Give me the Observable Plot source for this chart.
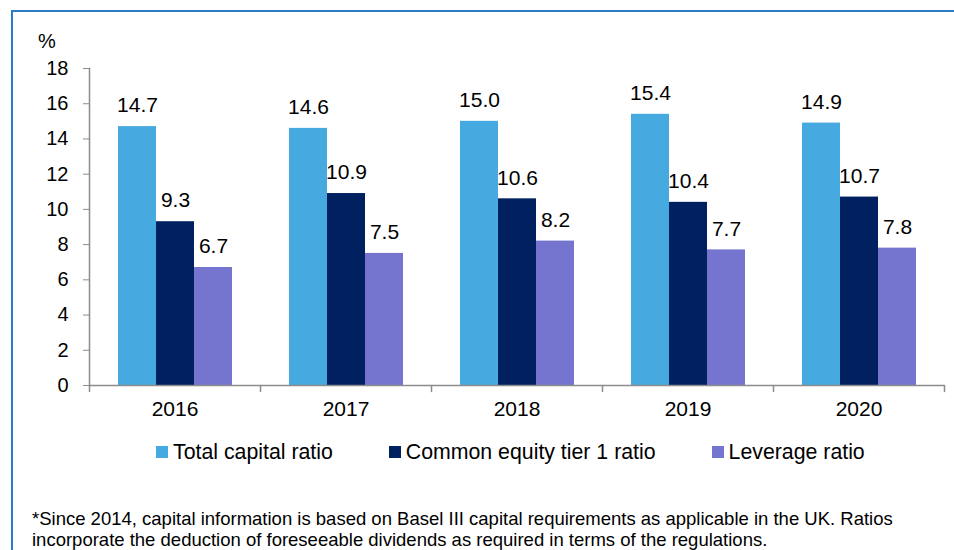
<!DOCTYPE html>
<html>
<head>
<meta charset="utf-8">
<script src="https://cdn.jsdelivr.net/npm/d3@7"></script>
<script src="https://cdn.jsdelivr.net/npm/@observablehq/plot@0.6"></script>
<style>
  body { margin: 0; background: #fff; font-family: "Liberation Sans", Arial, sans-serif; color: #000; }
  #wrap { position: relative; width: 954px; height: 550px; overflow: hidden; }
  #border { position: absolute; left: 11px; top: 10px; width: 960px; height: 560px;
            border-top: 2px solid #2a7cc8; border-left: 2px solid #2a7cc8; }
  #unit { position: absolute; left: 38px; top: 30px; font-size: 20px; line-height: 22px; }
  #chart { position: absolute; left: 0; top: 0; }
  #legend { position: absolute; left: 156px; top: 441px; display: flex;
            gap: 56px; font-size: 21.3px; line-height: 22px; white-space: nowrap; }
  #legend .item { display: flex; align-items: center; }
  #legend .sw { width: 12px; height: 12px; margin-right: 5px; }
  #note { position: absolute; left: 32px; top: 508px; font-size: 18.5px; line-height: 21px; white-space: nowrap; }
</style>
</head>
<body>
<div id="wrap">
  <div id="border"></div>
  <div id="chart"></div>
  <div id="unit">%</div>
  <div id="legend"></div>
  <div id="note">*Since 2014, capital information is based on Basel III capital requirements as applicable in the UK. Ratios<br>incorporate the deduction of foreseeable dividends as required in terms of the regulations.</div>
</div>
<script>
const years = ["2016", "2017", "2018", "2019", "2020"];
const series = ["Total capital ratio", "Common equity tier 1 ratio", "Leverage ratio"];
const totalCapital = [14.7, 14.6, 15.0, 15.4, 14.9];
const cet1 = [9.3, 10.9, 10.6, 10.4, 10.7];
const leverage = [6.7, 7.5, 8.2, 7.7, 7.8];
const colors = ["#46a9e0", "#00205f", "#7575d0"];
const yTicks = [0, 2, 4, 6, 8, 10, 12, 14, 16, 18];

const valuesBySeries = [totalCapital, cet1, leverage];
const rows = [];
years.forEach((yr, i) => {
  series.forEach((s, j) => rows.push({year: yr, series: s, value: valuesBySeries[j][i]}));
});

const grey = "#8c8c8c";
const tickShape = {draw(context, l) { context.moveTo(0, 0); context.lineTo(0, -l); }};

const chart = Plot.plot({
  width: 954,
  height: 430,
  marginTop: 68,
  marginBottom: 45,
  marginLeft: 87,
  marginRight: 8,
  style: {fontFamily: "'Liberation Sans', Arial, sans-serif", fontSize: "20px", color: "#000", background: "transparent"},
  fx: {domain: years, padding: 0, label: null},
  x: {domain: series, paddingInner: 0, paddingOuter: 0.75, axis: null},
  y: {domain: [0, 18]},
  color: {domain: series, range: colors},
  marks: [
    Plot.barY(rows, {fx: "year", x: "series", y: "value", fill: "series", inset: 0}),
    Plot.ruleY([0], {stroke: grey, strokeWidth: 1.5}),
    Plot.frame({anchor: "left", facetAnchor: "left", stroke: grey, strokeWidth: 1.5}),
    Plot.axisY({ticks: yTicks, tickSize: 6, tickPadding: 15, stroke: grey, fill: "#000", strokeOpacity: 1, label: null, fontSize: 20}),
    Plot.axisFx({anchor: "bottom", tickSize: 0, tickPadding: 16, label: null, fill: "#000", fontSize: 21}),
    Plot.vector([0], {frameAnchor: "bottom-left", length: 6, rotate: 180, anchor: "start", shape: tickShape, stroke: grey, strokeWidth: 1.5}),
    Plot.vector([0], {frameAnchor: "bottom-right", facetAnchor: "right", length: 6, rotate: 180, anchor: "start", shape: tickShape, stroke: grey, strokeWidth: 1.5}),
    Plot.text(rows, {fx: "year", x: "series", y: "value", text: d => d.value.toFixed(1), dy: -21, lineAnchor: "middle", fontSize: 21, fill: "#000"})
  ]
});
document.getElementById("chart").appendChild(chart);

const legend = d3.select("#legend");
series.forEach((s, j) => {
  const item = legend.append("div").attr("class", "item");
  item.append("div").attr("class", "sw").style("background", colors[j]);
  item.append("span").text(s);
});
</script>
</body>
</html>
